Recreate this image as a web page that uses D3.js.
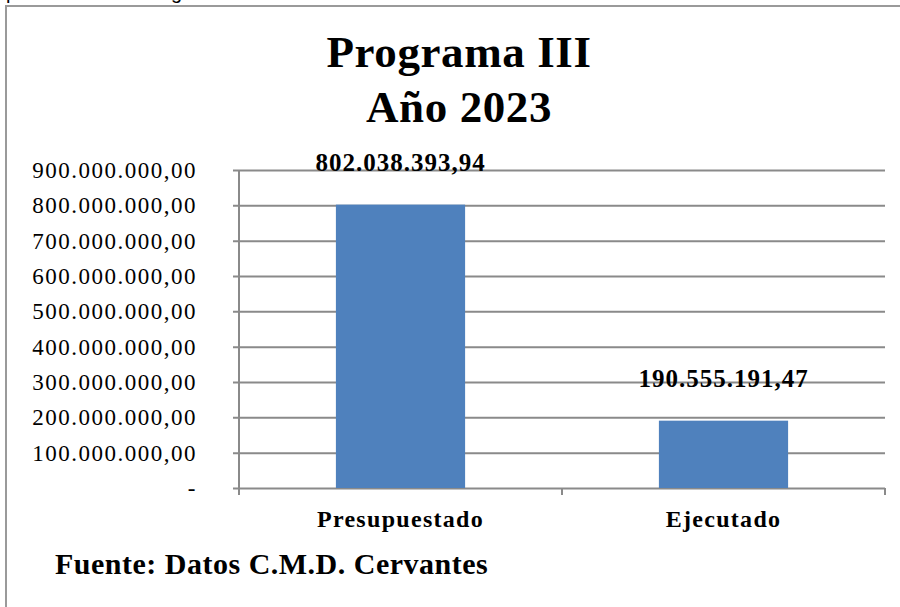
<!DOCTYPE html>
<html>
<head>
<meta charset="utf-8">
<script src="https://cdn.jsdelivr.net/npm/d3@7"></script>
<style>
    body { margin: 0; background: #fff; }
    text { font-family: "Liberation Serif", "Times New Roman", serif; fill: #000; }
</style>
</head>
<body>
<div id="chart-area"></div>
<script>

// data
let categories = ["Presupuestado", "Ejecutado"];
let values = [802038393.94, 190555191.47];
let yTicks = [0, 100000000, 200000000, 300000000, 400000000, 500000000, 600000000, 700000000, 800000000, 900000000];
let titleLines = ["Programa III", "Año 2023"];
let sourceText = "Fuente: Datos C.M.D. Cervantes";

// spanish style number format: 802.038.393,94
let locale = d3.formatLocale({decimal: ",", thousands: ".", grouping: [3], currency: ["", ""]});
let fmt = locale.format(",.2f");

class BarChart {

    constructor(parentElement, labels, data){
        this._parentElement = parentElement;
        this._labels = labels;
        this._data = data;
        this.initVis();
    }

    initVis() {
        let vis = this;

        vis.margin = {top: 170, right: 15, bottom: 119, left: 239};
        vis.totalW = 900;
        vis.totalH = 607;
        vis.width = vis.totalW - vis.margin.left - vis.margin.right;
        vis.height = vis.totalH - vis.margin.top - vis.margin.bottom;

        vis.root = d3.select("#" + vis._parentElement).append("svg")
            .attr("width", vis.totalW)
            .attr("height", vis.totalH);

        vis.root.append("rect")
            .attr("width", vis.totalW)
            .attr("height", vis.totalH)
            .attr("fill", "#fff");

        // bits of text cut off above the frame
        vis.root.append("text").attr("x", 6).attr("y", -1)
            .style("font-family", "Liberation Sans, Arial, sans-serif")
            .style("font-size", "20px").text("p");
        vis.root.append("text").attr("x", 171).attr("y", -1)
            .style("font-family", "Liberation Sans, Arial, sans-serif")
            .style("font-size", "20px").text("g");

        // frame (left + top only)
        vis.root.append("path")
            .attr("d", "M6," + vis.totalH + "V6H" + vis.totalW)
            .attr("fill", "none")
            .attr("stroke", "#9a9a9a")
            .attr("stroke-width", 2);

        // title
        vis.root.selectAll(".title").data(titleLines).enter().append("text")
            .attr("class", "title")
            .attr("x", 459)
            .attr("y", (d, i) => 67 + i * 55)
            .attr("text-anchor", "middle")
            .style("font-size", "45px")
            .style("font-weight", "bold")
            .style("letter-spacing", "0.6px")
            .text(d => d);

        // source
        vis.root.append("text")
            .attr("x", 55)
            .attr("y", 574)
            .style("font-size", "30px")
            .style("font-weight", "bold")
            .style("letter-spacing", "0.5px")
            .text(sourceText);

        vis.svg = vis.root.append("g")
            .attr("transform", "translate(" + vis.margin.left + "," + vis.margin.top + ")");

        // scales
        vis.x = d3.scaleBand()
            .domain(vis._labels)
            .range([0, vis.width])
            .paddingInner(0.6)
            .paddingOuter(0.3);

        vis.y = d3.scaleLinear()
            .domain([0, 900000000])
            .range([vis.height, 0]);

        vis.updateVis();
    }

    updateVis() {
        let vis = this;
        let grey = "#8a8a8a";

        // y axis with gridlines
        vis.yAxis = d3.axisLeft(vis.y)
            .tickValues(yTicks)
            .tickSize(0)
            .tickFormat(d => d === 0 ? "-" : fmt(d));

        let yg = vis.svg.append("g")
            .attr("class", "y-axis axis")
            .call(vis.yAxis);

        yg.select(".domain").remove();
        yg.selectAll(".tick line")
            .attr("x1", -6)
            .attr("x2", vis.width)
            .attr("stroke", grey)
            .attr("stroke-width", 2);
        yg.selectAll(".tick text")
            .attr("x", -42)
            .attr("dy", "0.32em")
            .style("font-family", "Liberation Serif, Times New Roman, serif")
            .style("font-size", "23px")
            .style("letter-spacing", "1.5px")
            .attr("fill", "#000");

        // vertical axis line
        vis.svg.append("line")
            .attr("x1", 0).attr("x2", 0)
            .attr("y1", 0).attr("y2", vis.height)
            .attr("stroke", grey)
            .attr("stroke-width", 2);

        // category boundary ticks on x axis
        let bounds = [0].concat(vis._labels.map((d, i) => vis.x.step() * (i + 1)));
        vis.svg.selectAll(".xtick").data(bounds).enter().append("line")
            .attr("class", "xtick")
            .attr("x1", d => d).attr("x2", d => d)
            .attr("y1", vis.height).attr("y2", vis.height + 7)
            .attr("stroke", grey)
            .attr("stroke-width", 2);

        // category labels
        vis.svg.selectAll(".xlabel").data(vis._labels).enter().append("text")
            .attr("class", "xlabel")
            .attr("x", d => vis.x(d) + vis.x.bandwidth() / 2)
            .attr("y", vis.height + 39)
            .attr("text-anchor", "middle")
            .style("font-size", "24px")
            .style("font-weight", "bold")
            .style("letter-spacing", "1.3px")
            .text(d => d);

        // bars
        vis.svg.selectAll(".bar").data(vis._data).enter().append("rect")
            .attr("class", "bar")
            .attr("x", (d, i) => vis.x(vis._labels[i]))
            .attr("y", d => vis.y(d))
            .attr("width", vis.x.bandwidth())
            .attr("height", d => vis.height - vis.y(d))
            .attr("fill", "#4f81bd");

        // value labels
        vis.svg.selectAll(".vlabel").data(vis._data).enter().append("text")
            .attr("class", "vlabel")
            .attr("x", (d, i) => vis.x(vis._labels[i]) + vis.x.bandwidth() / 2)
            .attr("y", d => vis.y(d) - 34)
            .attr("text-anchor", "middle")
            .style("font-size", "25px")
            .style("font-weight", "bold")
            .style("letter-spacing", "1px")
            .text(d => fmt(d));
    }
}

let myChart = new BarChart("chart-area", categories, values);

</script>
</body>
</html>
